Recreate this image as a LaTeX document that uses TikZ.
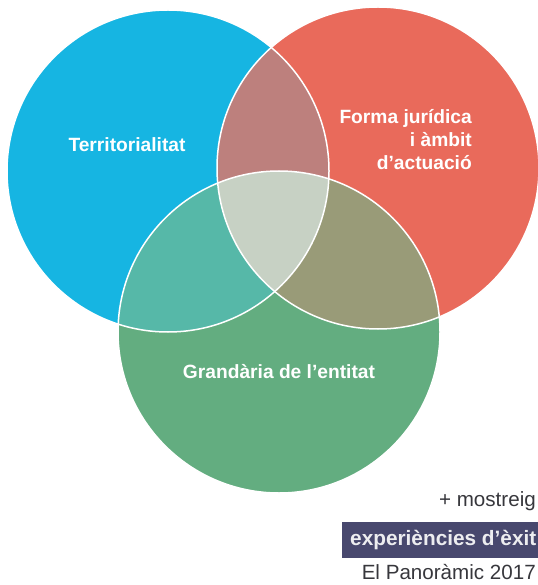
\documentclass[tikz,border=0pt]{standalone}
\usepackage{fontspec}
\setmainfont{Liberation Sans}
\usetikzlibrary{positioning}

\definecolor{terrblue}{RGB}{22,181,226}
\definecolor{formared}{RGB}{233,106,91}
\definecolor{grandgreen}{RGB}{99,173,128}
\definecolor{bluered}{RGB}{189,128,125}
\definecolor{bluegreen}{RGB}{86,184,168}
\definecolor{redgreen}{RGB}{153,155,120}
\definecolor{allthree}{RGB}{199,209,196}
\definecolor{navybox}{RGB}{72,72,110}
\definecolor{greytext}{RGB}{55,55,60}

\begin{document}
\begin{tikzpicture}[x=1pt, y=-1pt]
\tikzstyle{label} = [text=white, font=\bfseries\fontsize{19.2}{23}\selectfont,
    inner sep=0pt]
\tikzstyle{note} = [text=greytext, font=\fontsize{20.6}{23}\selectfont,
    inner sep=0pt, anchor=east]
\tikzstyle{edge} = [draw=white, line width=1.5pt]
\def\rad{161pt}

\useasboundingbox (0,0) rectangle (537,585);

 \coordinate (terr) at (168,171);
 \coordinate (forma) at (378,168);
 \coordinate (grand) at (279,332);

 % the three sets
 \fill [terrblue] (terr) circle (\rad);
 \fill [formared] (forma) circle (\rad);
 \fill [grandgreen] (grand) circle (\rad);

 % overlaps
 \begin{scope}
  \clip (forma) circle (\rad);
  \fill [redgreen] (grand) circle (\rad);
 \end{scope}
 \begin{scope}
  \clip (terr) circle (\rad);
  \fill [bluered] (forma) circle (\rad);
  \fill [bluegreen] (grand) circle (\rad);
  \clip (forma) circle (\rad);
  \fill [allthree] (grand) circle (\rad);
 \end{scope}

 \path [edge] (terr) circle (\rad);
 \path [edge] (forma) circle (\rad);
 \path [edge] (grand) circle (\rad);

 \node [label] (territorialitat) at (127,145) {Territorialitat};
 \node [label, align=right, anchor=east] (formajur) at (472,140)
    {Forma jurídica\\i àmbit\\d’actuació};
 \node [label] (grandaria) at (279,372) {Grandària de l’entitat};

 \node [note] (mostreig) at (536,501) {+ mostreig};
 \node [fill=navybox, text=white!90!navybox, anchor=west, minimum height=36pt,
    inner xsep=8pt, font=\bfseries\fontsize{20.8}{23}\selectfont] (exits) at (342,540)
    {experiències d’èxit};
 \node [note] (panoramic) at (536,572) {El Panoràmic 2017};
\end{tikzpicture}
\end{document}
